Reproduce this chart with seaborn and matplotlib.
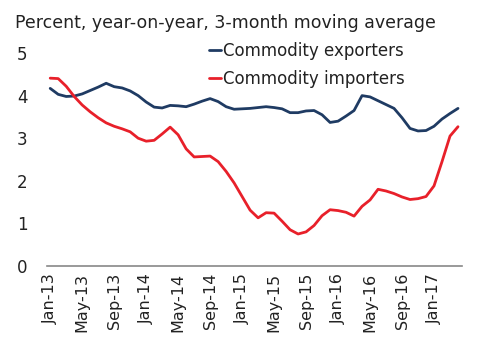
import numpy as np
import pandas as pd
import matplotlib
matplotlib.use("Agg")
import matplotlib.pyplot as plt
import seaborn as sns

# monthly, Jan-13 .. Apr-17
months = pd.date_range("2013-01-01", "2017-04-01", freq="MS")

exporters = [4.17, 4.03, 3.98, 3.99, 4.04, 4.12, 4.20, 4.29, 4.21, 4.18,
             4.11, 4.00, 3.85, 3.73, 3.71, 3.77, 3.76, 3.74, 3.80, 3.87,
             3.93, 3.86, 3.74, 3.68, 3.69, 3.70, 3.72, 3.74, 3.72, 3.69,
             3.60, 3.60, 3.64, 3.65, 3.55, 3.37, 3.40, 3.52, 3.65, 4.00,
             3.97, 3.88, 3.79, 3.70, 3.48, 3.23, 3.17, 3.18, 3.28, 3.45,
             3.58, 3.70]

importers = [4.41, 4.40, 4.22, 3.98, 3.78, 3.62, 3.48, 3.36, 3.28, 3.22,
             3.15, 3.00, 2.93, 2.95, 3.10, 3.26, 3.08, 2.75, 2.56, 2.57,
             2.58, 2.45, 2.22, 1.95, 1.63, 1.31, 1.13, 1.25, 1.24, 1.05,
             0.85, 0.75, 0.80, 0.95, 1.18, 1.32, 1.30, 1.26, 1.17, 1.40,
             1.55, 1.80, 1.76, 1.70, 1.62, 1.56, 1.58, 1.63, 1.88, 2.45,
             3.05, 3.27]

series_names = ["Commodity exporters", "Commodity importers"]
colors = ["#1f3b63", "#e8202a"]

tick_labels = [m.strftime("%b-%y") for m in months[::4]]

df = pd.DataFrame({
    "month": np.tile(np.arange(len(months)), 2),
    "value": exporters + importers,
    "series": np.repeat(series_names, len(months)),
})

sns.set_style("white")
plt.rcParams["font.family"] = ["DejaVu Sans"]

fig = plt.figure(figsize=(5, 3.56), dpi=100)
ax = fig.add_axes([0.094, 0.253, 0.83, 0.598])

sns.lineplot(data=df, x="month", y="value", hue="series",
             palette=colors, linewidth=2.0, ax=ax)

ax.set_xlim(-0.4, 51.5)
ax.set_ylim(0, 5)
ax.set_xticks(np.arange(0, len(months), 4))
ax.set_xticklabels(tick_labels, rotation=90, fontsize=11.5, color="#222222")
ax.set_yticks([0, 1, 2, 3, 4, 5])
ax.tick_params(axis="y", labelsize=12, length=0, pad=14, labelcolor="#222222")
ax.tick_params(axis="x", length=0, pad=5)
ax.set_xlabel("")
ax.set_ylabel("")

for s in ["top", "right", "left"]:
    ax.spines[s].set_visible(False)
ax.spines["bottom"].set_color("#888888")
ax.spines["bottom"].set_linewidth(1.2)

leg = ax.legend(loc="upper left", bbox_to_anchor=(0.375, 1.084), frameon=False,
                fontsize=12, handlelength=0.7, handletextpad=0.15,
                labelspacing=0.6, borderaxespad=0)
for t in leg.get_texts():
    t.set_color("#222222")

fig.text(0.03, 0.935, "Percent, year-on-year, 3-month moving average",
         fontsize=12.5, color="#222222", va="center")

fig.savefig("out.png", dpi=100)
